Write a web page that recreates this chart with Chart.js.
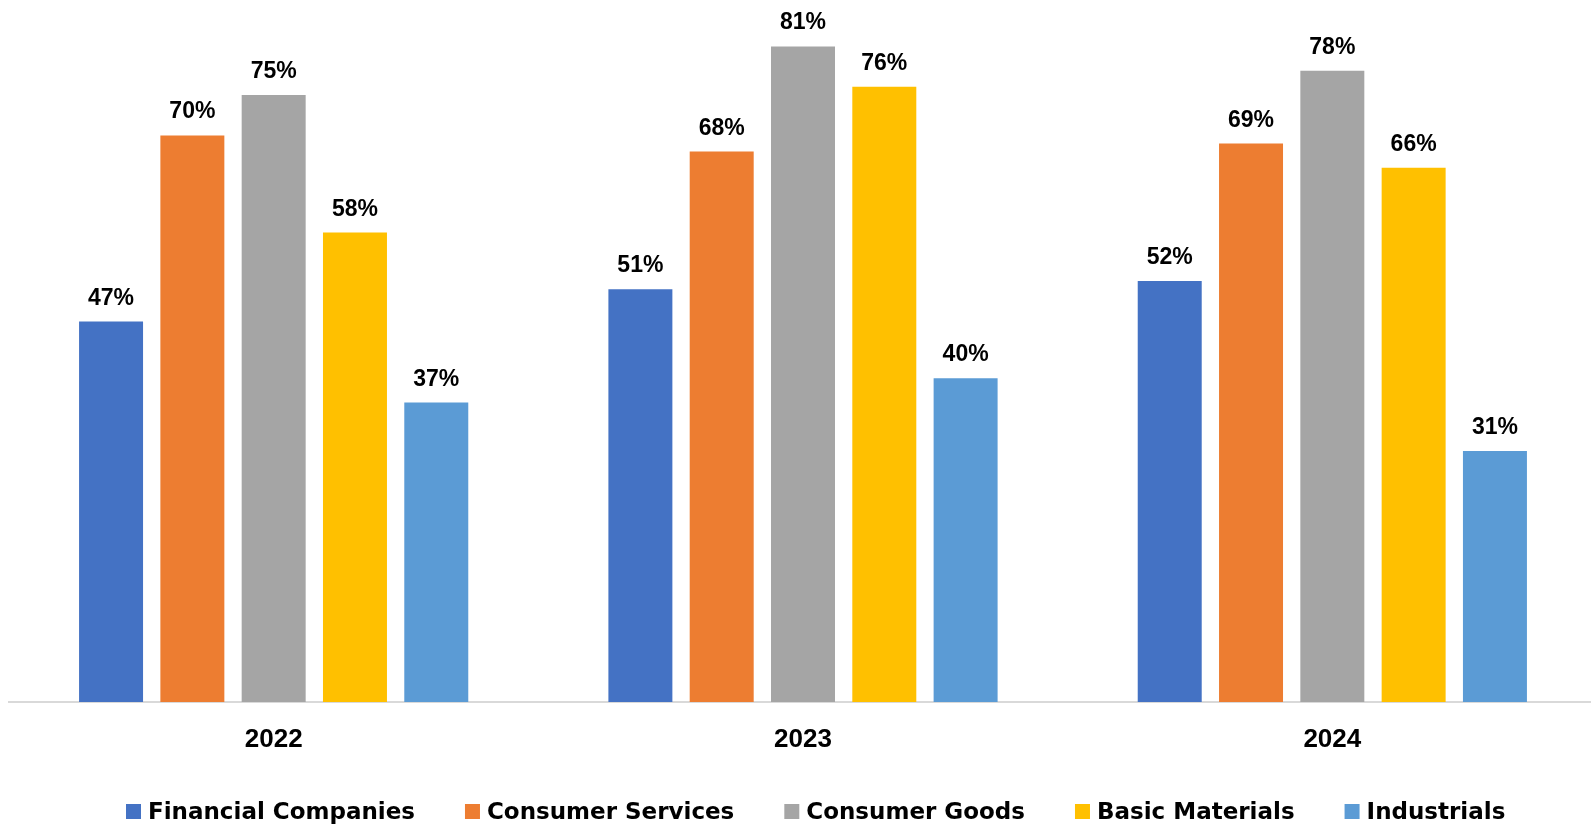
<!DOCTYPE html>
<html lang="en">
<head>
    <meta charset="UTF-8">
    <title>Share by sector, 2022-2024</title>
    <script src="https://cdn.jsdelivr.net/npm/chart.js"></script>
    <style>
        html, body {
            margin: 0;
            padding: 0;
            background: #fff;
            overflow: hidden;
        }
        .chart-container {
            position: relative;
            width: 1597px;
            height: 826px;
        }
    </style>
</head>
<body>
    <div class="chart-container">
        <canvas id="sectorChart"></canvas>
    </div>

    <script>
        // Data
        var years = ['2022', '2023', '2024'];
        var sectors = ['Financial Companies', 'Consumer Services', 'Consumer Goods', 'Basic Materials', 'Industrials'];
        var financialCompanies = [47, 51, 52];
        var consumerServices = [70, 68, 69];
        var consumerGoods = [75, 81, 78];
        var basicMaterials = [58, 76, 66];
        var industrials = [37, 40, 31];
        var sectorColors = ['#4472C4', '#ED7D31', '#A5A5A5', '#FFC000', '#5B9BD5'];

        var series = [financialCompanies, consumerServices, consumerGoods, basicMaterials, industrials];

        // Percent labels above each bar
        var valueLabels = {
            id: 'valueLabels',
            afterDatasetsDraw: function (chart) {
                var ctx = chart.ctx;
                ctx.save();
                ctx.font = 'bold 23px "Liberation Sans", Arial, sans-serif';
                ctx.fillStyle = '#000';
                ctx.textAlign = 'center';
                ctx.textBaseline = 'alphabetic';
                chart.data.datasets.forEach(function (ds, i) {
                    chart.getDatasetMeta(i).data.forEach(function (bar, j) {
                        ctx.fillText(ds.data[j] + '%', bar.x, bar.y - 17);
                    });
                });
                ctx.restore();
            }
        };

        // Legend row under the axis: square swatch + name, laid out left to right
        var bottomLegend = {
            id: 'bottomLegend',
            afterDraw: function (chart) {
                var ctx = chart.ctx;
                ctx.save();
                ctx.font = 'bold 23px "DejaVu Sans", sans-serif';
                ctx.textBaseline = 'alphabetic';
                ctx.textAlign = 'left';
                var x = 126, y = 819;
                chart.data.datasets.forEach(function (ds) {
                    ctx.fillStyle = ds.backgroundColor;
                    ctx.fillRect(x, y - 15, 15, 15);
                    ctx.fillStyle = '#000';
                    ctx.fillText(ds.label, x + 22, y);
                    x += 22 + ctx.measureText(ds.label).width + 50;
                });
                ctx.restore();
            }
        };

        var ctx = document.getElementById('sectorChart').getContext('2d');
        var sectorChart = new Chart(ctx, {
            type: 'bar',
            data: {
                labels: years,
                datasets: series.map(function (values, i) {
                    return {
                        label: sectors[i],
                        data: values,
                        backgroundColor: sectorColors[i],
                        borderWidth: 0,
                        categoryPercentage: 0.768,
                        barPercentage: 0.787
                    };
                })
            },
            options: {
                responsive: true,
                maintainAspectRatio: false,
                animation: false,
                layout: {
                    padding: { left: 9, right: 0, top: 14, bottom: 74 }
                },
                plugins: {
                    legend: { display: false },
                    tooltip: { enabled: false }
                },
                scales: {
                    x: {
                        grid: { display: false, drawTicks: false },
                        border: { color: '#D9D9D9', width: 2 },
                        ticks: {
                            color: '#000',
                            font: { family: '"Liberation Sans", Arial, sans-serif', size: 26, weight: 'bold' },
                            padding: 22
                        },
                        afterFit: function (scale) {
                            scale.height = 50;
                        }
                    },
                    y: {
                        display: false,
                        min: 0,
                        max: 85
                    }
                }
            },
            plugins: [valueLabels, bottomLegend]
        });
    </script>
</body>
</html>
